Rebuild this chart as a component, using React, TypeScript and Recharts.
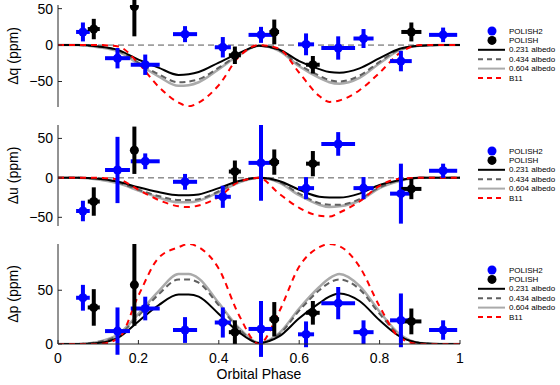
import React from "react";
import {
  ComposedChart,
  Line,
  Scatter,
  ErrorBar,
  XAxis,
  YAxis,
  ReferenceLine,
} from "recharts";

// model grid (orbital phase)
const PHASE = [0, 0.05, 0.1, 0.15, 0.2, 0.25, 0.3, 0.325, 0.35, 0.4, 0.45, 0.5, 0.55, 0.6, 0.65, 0.675, 0.7, 0.75, 0.8, 0.85, 0.9, 0.95, 1];

const Q_231 = [0, 0, -2, -7, -20, -31, -41, -40, -37, -24, -11, -1, -6, -22, -33, -37, -38, -32, -18, -5, -1, 0, 0];
const Q_434 = [0, 0, -2, -8, -24, -40, -51, -50, -47, -31, -13, -1, -7, -27, -42, -48, -50, -42, -23, -6, -1, 0, 0];
const Q_604 = [0, 0, -3, -9, -26, -43, -56, -55, -51, -33, -14, -1, -8, -29, -45, -51, -53, -45, -25, -7, -1, 0, 0];
const Q_B11 = [0, 0, 0, -2, -25, -57, -79, -84, -79, -55, -16, 0, -5, -38, -70, -78, -76, -62, -38, -11, 0, 0, 0];

const U_231 = [0, 0, -1, -5, -12, -18, -22, -22, -21, -13, -4, 0, -4, -15, -24, -25, -25, -20, -9, -3, 0, 0, 0];
const U_434 = [0, 0, -1, -6, -15, -23, -28, -28, -27, -17, -5, 0, -5, -20, -32, -34, -34, -27, -12, -3, 0, 0, 0];
const U_604 = [0, 0, -2, -7, -16, -25, -31, -31, -29, -18, -6, 0, -6, -22, -34, -37, -36, -29, -13, -4, 0, 0, 0];
const U_B11 = [0, 0, 0, -2, -15, -28, -36, -37, -35, -24, -5, 0, -20, -38, -48, -49, -44, -30, -10, -1, 0, 0, 0];

const P_231 = [0, 0, 1, 6, 21, 36, 46, 46, 44, 28, 11, 1, 7, 24, 38, 44, 47, 40, 22, 7, 1, 0, 0];
const P_434 = [0, 0, 2, 8, 26, 46, 60, 60, 57, 36, 14, 1, 9, 31, 50, 57, 60, 51, 28, 8, 1, 0, 0];
const P_604 = [0, 0, 2, 9, 28, 49, 65, 65, 61, 38, 15, 1, 10, 33, 53, 61, 65, 54, 30, 9, 1, 0, 0];
const P_B11 = [0, 0, 0, 5, 45, 80, 90, 93, 90, 70, 27, 0, 30, 72, 90, 93, 91, 72, 35, 6, 0, 0, 0];

// POLISH2 (blue)
const BLUE_PHASE = [0.062, 0.148, 0.217, 0.316, 0.41, 0.505, 0.617, 0.697, 0.76, 0.853, 0.958];
const BLUE_XERR = [0.017, 0.031, 0.036, 0.03, 0.02, 0.031, 0.02, 0.042, 0.025, 0.027, 0.035];
const BLUE_Q = [18, -18, -27, 15, -3, 14, 1, -4, 9, -22, 14];
const BLUE_Q_ERR = [13, 14, 14, 11, 14, 11, 15, 16, 13, 14, 10];
const BLUE_U = [-42, 10, 21, -5, -24, 19, -13, 43, -13, -20, 9];
const BLUE_U_ERR = [13, 42, 10, 10, 14, 48, 14, 15, 14, 38, 9];
const BLUE_P = [43, 12, 33, 13, 20, 14, 9, 38, 11, 22, 13];
const BLUE_P_ERR = [12, 22, 11, 12, 14, 26, 12, 15, 11, 25, 9];

// POLISH (black)
const BLACK_PHASE = [0.089, 0.19, 0.44, 0.538, 0.634, 0.879];
const BLACK_XERR = [0.015, 0, 0.015, 0.012, 0.017, 0.025];
const BLACK_Q = [22, 53, -14, 18, -27, 18];
const BLACK_Q_ERR = [14, 41, 12, 17, 12, 13];
const BLACK_U = [-30, 35, 8, 20, 18, -14];
const BLACK_U_ERR = [18, 30, 14, 16, 16, 13];
const BLACK_P = [34, 55, 11, 23, 29, 21];
const BLACK_P_ERR = [17, 38, 11, 16, 11, 12];

const X_TICKS = [0, 0.2, 0.4, 0.6, 0.8, 1];

const fontFamily = "'Liberation Sans', Arial, sans-serif";
const frameColor = "#262626";
const blue = "#0000ff";

const modelRows = (a: number[], b: number[], c: number[], d: number[]) =>
  PHASE.map((phase, i) => ({ phase, m231: a[i], m434: b[i], m604: c[i], b11: d[i] }));

const pointRows = (phases: number[], xerr: number[], vals: number[], yerr: number[]) =>
  phases.map((phase, i) => ({ phase, val: vals[i], ex: xerr[i], ey: yerr[i] }));

const fmtY = (v: number) => (v < 0 ? "\u2212" + Math.abs(v) : String(v));

interface PanelProps {
  top: number;
  height: number;
  bottom: number;
  domain: [number, number];
  ticks: number[];
  label: string;
  rows: any[];
  bluePts: any[];
  blackPts: any[];
  showX?: boolean;
  zeroLine?: boolean;
}

const Panel = (p: PanelProps) => (
  <div style={{ position: "absolute", left: 0, top: p.top }}>
    <ComposedChart
      width={470}
      height={p.height}
      data={p.rows}
      margin={{ top: 5, right: 10, left: 0, bottom: p.bottom }}
    >
      <XAxis
        dataKey="phase"
        type="number"
        domain={[0, 1]}
        ticks={X_TICKS}
        tickSize={-4}
        tickMargin={13}
        height={p.showX ? 40 : 0}
        stroke={frameColor}
        tick={{ fill: "#000", fontSize: 14, fontFamily }}
        tickFormatter={p.showX ? (v: number) => String(v) : () => ""}
        label={
          p.showX
            ? { value: "Orbital Phase", position: "insideBottom", offset: 5, fill: "#000", fontSize: 14, fontFamily }
            : undefined
        }
      />
      <XAxis
        xAxisId="top"
        orientation="top"
        type="number"
        domain={[0, 1]}
        ticks={X_TICKS}
        tickSize={-4}
        height={0}
        stroke={frameColor}
        tickFormatter={() => ""}
      />
      <YAxis
        type="number"
        domain={p.domain}
        ticks={p.ticks}
        allowDataOverflow
        width={58}
        tickSize={-4}
        tickMargin={9}
        stroke={frameColor}
        tick={{ fill: "#000", fontSize: 14, fontFamily }}
        tickFormatter={fmtY}
        label={{
          value: p.label,
          angle: -90,
          position: "insideLeft",
          offset: 13,
          style: { textAnchor: "middle" },
          fill: "#000",
          fontSize: 14,
          fontFamily,
        }}
      />
      <YAxis
        yAxisId="right"
        orientation="right"
        type="number"
        domain={p.domain}
        ticks={p.ticks}
        allowDataOverflow
        width={0}
        tickSize={-4}
        stroke={frameColor}
        tickFormatter={() => ""}
      />
      {p.zeroLine && (
        <ReferenceLine y={0} stroke="#555" strokeDasharray="6 4" strokeWidth={1} />
      )}
      <Line dataKey="m604" type="monotone" stroke="#aaaaaa" strokeWidth={2.5} dot={false} isAnimationActive={false} />
      <Line dataKey="m434" type="monotone" stroke="#606060" strokeWidth={2} strokeDasharray="6 4" dot={false} isAnimationActive={false} />
      <Line dataKey="m231" type="monotone" stroke="#000" strokeWidth={2} dot={false} isAnimationActive={false} />
      <Line dataKey="b11" type="monotone" stroke="#ff0000" strokeWidth={2} strokeDasharray="6 5" dot={false} isAnimationActive={false} />
      <Scatter data={p.bluePts} dataKey="val" fill={blue} isAnimationActive={false}>
        <ErrorBar dataKey="ey" direction="y" width={0} strokeWidth={4} stroke={blue} isAnimationActive={false} />
        <ErrorBar dataKey="ex" direction="x" width={0} strokeWidth={4} stroke={blue} isAnimationActive={false} />
      </Scatter>
      <Scatter data={p.blackPts} dataKey="val" fill="#000" isAnimationActive={false}>
        <ErrorBar dataKey="ey" direction="y" width={0} strokeWidth={4} stroke="#000" isAnimationActive={false} />
        <ErrorBar dataKey="ex" direction="x" width={0} strokeWidth={4} stroke="#000" isAnimationActive={false} />
      </Scatter>
    </ComposedChart>
  </div>
);

const LEGEND_LINES = [
  { name: "0.231 albedo", color: "#000", dash: undefined, w: 2 },
  { name: "0.434 albedo", color: "#606060", dash: "5 4", w: 2 },
  { name: "0.604 albedo", color: "#aaaaaa", dash: undefined, w: 2 },
  { name: "B11", color: "#ff0000", dash: "5 4", w: 2 },
];

const PanelLegend = ({ top }: { top: number }) => {
  const step = 9.4;
  const textProps = { x: 39, fontSize: 8, fontFamily, fill: "#000", dominantBaseline: "central" as const };
  return (
    <svg style={{ position: "absolute", left: 470, top: top - 6 }} width={90} height={64}>
      <circle cx={22} cy={6} r={4.5} fill={blue} />
      <text {...textProps} y={6}>POLISH2</text>
      <circle cx={22} cy={6 + step} r={4.5} fill="#000" />
      <text {...textProps} y={6 + step}>POLISH</text>
      {LEGEND_LINES.map((l, i) => {
        const y = 6 + step * (i + 2);
        return (
          <g key={l.name}>
            <line x1={8} x2={35} y1={y} y2={y} stroke={l.color} strokeWidth={l.w} strokeDasharray={l.dash} />
            <text {...textProps} y={y}>{l.name}</text>
          </g>
        );
      })}
    </svg>
  );
};

export default function App() {
  return (
    <div style={{ position: "absolute", left: 0, top: 0, width: 560, height: 385, background: "#fff" }}>
      <Panel
        top={0}
        height={125}
        bottom={18}
        domain={[-85, 55]}
        ticks={[-50, 0, 50]}
        label="Δq (ppm)"
        rows={modelRows(Q_231, Q_434, Q_604, Q_B11)}
        bluePts={pointRows(BLUE_PHASE, BLUE_XERR, BLUE_Q, BLUE_Q_ERR)}
        blackPts={pointRows(BLACK_PHASE, BLACK_XERR, BLACK_Q, BLACK_Q_ERR)}
        zeroLine
      />
      <Panel
        top={120}
        height={125}
        bottom={19}
        domain={[-61, 67]}
        ticks={[-50, 0, 50]}
        label="Δu (ppm)"
        rows={modelRows(U_231, U_434, U_604, U_B11)}
        bluePts={pointRows(BLUE_PHASE, BLUE_XERR, BLUE_U, BLUE_U_ERR)}
        blackPts={pointRows(BLACK_PHASE, BLACK_XERR, BLACK_U, BLACK_U_ERR)}
        zeroLine
      />
      <Panel
        top={239}
        height={146}
        bottom={1}
        domain={[0, 93]}
        ticks={[0, 50]}
        label="Δp (ppm)"
        rows={modelRows(P_231, P_434, P_604, P_B11)}
        bluePts={pointRows(BLUE_PHASE, BLUE_XERR, BLUE_P, BLUE_P_ERR)}
        blackPts={pointRows(BLACK_PHASE, BLACK_XERR, BLACK_P, BLACK_P_ERR)}
        showX
      />
      <PanelLegend top={31} />
      <PanelLegend top={151} />
      <PanelLegend top={270} />
    </div>
  );
}
